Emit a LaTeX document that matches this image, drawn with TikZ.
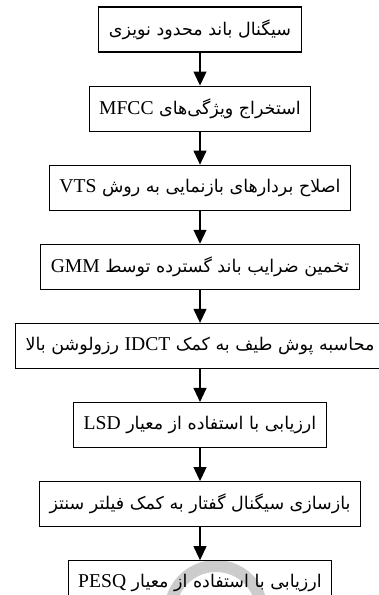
\documentclass[tikz,border=0pt]{standalone}
\usepackage{fontspec}
\setmainfont[Scale=1.12]{Liberation Serif}
\newfontfamily\arabicfont[Script=Arabic]{DejaVu Sans}
\TeXXeTstate=1
\usetikzlibrary{arrows.meta, positioning}

\newcommand{\fa}[1]{{\arabicfont\beginR #1\endR}}
\newcommand{\en}[1]{\beginL{\rmfamily #1}\endL{}}

\begin{document}
\begin{tikzpicture}[
    x=1pt, y=1pt, node distance=33pt,
    stage/.style={draw, line width=1.1pt, minimum height=45pt,
      inner xsep=10pt, font=\fontsize{17.5}{20}\selectfont},
    flow/.style={-{Triangle[length=14pt,width=13pt]}, line width=1.1pt}
  ]
  \useasboundingbox (0,0) rectangle (378,-595);
  % gray mark behind the last box
  \draw[line width=12pt, black!20] (216,-612) ++(165:46) arc[start angle=165, end angle=12, radius=46];

  \node[stage] (s1) at (200,-29.5) {\fa{سیگنال باند محدود نویزی}};
  \node[stage, below=of s1] (s2) {\fa{استخراج ویژگی‌های \en{MFCC}}};
  \node[stage, below=of s2] (s3) {\fa{اصلاح بردارهای بازنمایی به روش \en{VTS}}};
  \node[stage, below=of s3] (s4) {\fa{تخمین ضرایب باند گسترده توسط \en{GMM}}};
  \node[stage, below=of s4] (s5) {\fa{محاسبه پوش طیف به کمک \en{IDCT} رزولوشن بالا}};
  \node[stage, below=of s5] (s6) {\fa{ارزیابی با استفاده از معیار \en{LSD}}};
  \node[stage, below=of s6] (s7) {\fa{بازسازی سیگنال گفتار به کمک فیلتر سنتز}};
  \node[stage, below=of s7] (s8) {\fa{ارزیابی با استفاده از معیار \en{PESQ}}};

  \path[flow]
    (s1) edge (s2)
    (s2) edge (s3)
    (s3) edge (s4)
    (s4) edge (s5)
    (s5) edge (s6)
    (s6) edge (s7)
    (s7) edge (s8);
\end{tikzpicture}
\end{document}
